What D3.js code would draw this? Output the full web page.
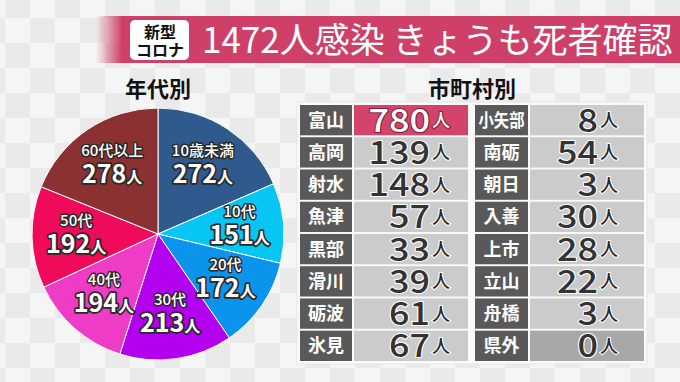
<!DOCTYPE html>
<html>
  <head>
    <meta charset="utf-8">
    <title>富山 感染者内訳</title>
    <script src="https://d3js.org/d3.v7.min.js"></script>
    <style>
      body { margin: 0; background: #f2f2f2; }
      svg { display: block; font-family: "Noto Sans CJK JP", "Noto Sans", sans-serif; }
    </style>
  </head>
  <body>
    <div id="chart"></div>
    <script>

      // data
      var ageLabels = ["10歳未満", "10代", "20代", "30代", "40代", "50代", "60代以上"];
      var ageValues = [272, 151, 172, 213, 194, 192, 278];
      var ageColors = ["#2f5a8e", "#08c6f4", "#0a94ec", "#b300ee", "#ef3cc6", "#ef0a5a", "#8b3131"];

      var cityLeft = ["富山", "高岡", "射水", "魚津", "黒部", "滑川", "砺波", "氷見"];
      var valuesLeft = [780, 139, 148, 57, 33, 39, 61, 67];
      var cityRight = ["小矢部", "南砺", "朝日", "入善", "上市", "立山", "舟橋", "県外"];
      var valuesRight = [8, 54, 3, 30, 28, 22, 3, 0];

      var width = 680, height = 382;

      var svg = d3.select("#chart").append("svg")
        .attr("width", width)
        .attr("height", height);

      var defs = svg.append("defs");

      // checkered backdrop
      var pat = defs.append("pattern")
        .attr("id", "checks")
        .attr("patternUnits", "userSpaceOnUse")
        .attr("x", 5).attr("y", -7)
        .attr("width", 50).attr("height", 50);
      pat.append("rect").attr("width", 50).attr("height", 50).attr("fill", "#f5f5f5");
      pat.append("rect").attr("width", 25).attr("height", 25).attr("fill", "#eaeaea");
      pat.append("rect").attr("x", 25).attr("y", 25).attr("width", 25).attr("height", 25).attr("fill", "#eaeaea");

      svg.append("rect")
        .attr("width", width).attr("height", height)
        .attr("fill", "url(#checks)");

      // header band, fading in from the left
      var fade = defs.append("linearGradient")
        .attr("id", "fade")
        .attr("x1", 0).attr("x2", 1).attr("y1", 0).attr("y2", 0);
      fade.append("stop").attr("offset", "0").attr("stop-color", "#cf4068").attr("stop-opacity", 0);
      fade.append("stop").attr("offset", "0.045").attr("stop-color", "#cf4068").attr("stop-opacity", 1);
      fade.append("stop").attr("offset", "1").attr("stop-color", "#cf4068").attr("stop-opacity", 1);

      svg.append("rect")
        .attr("x", 96).attr("y", 16)
        .attr("width", width - 96).attr("height", 47)
        .attr("fill", "url(#fade)");

      svg.append("rect")
        .attr("x", 130).attr("y", 20)
        .attr("width", 59).attr("height", 40)
        .attr("rx", 5)
        .attr("fill", "#ffffff");

      svg.append("text")
        .attr("x", 160).attr("y", 38)
        .attr("text-anchor", "middle")
        .style("font-size", "16px").style("font-weight", 700)
        .attr("fill", "#111")
        .text("新型");
      svg.append("text")
        .attr("x", 160).attr("y", 56)
        .attr("text-anchor", "middle")
        .style("font-size", "16px").style("font-weight", 700)
        .attr("fill", "#111")
        .text("コロナ");

      svg.append("text")
        .attr("x", 202).attr("y", 53)
        .style("font-size", "35px").style("font-weight", 400)
        .attr("fill", "#ffffff")
        .text("1472人感染 きょうも死者確認");

      // pie: 年代別
      var cx = 158, cy = 234, r = 126;

      svg.append("text")
        .attr("x", cx).attr("y", 97)
        .attr("text-anchor", "middle")
        .style("font-size", "22px").style("font-weight", 700)
        .attr("fill", "#111")
        .text("年代別");

      var pie = d3.pie().sort(null).value(function (d) { return d; });
      var arcs = pie(ageValues);
      var arc = d3.arc().innerRadius(0).outerRadius(r);
      var labelArc = d3.arc().innerRadius(r * 0.65).outerRadius(r * 0.65);

      var g = svg.append("g").attr("transform", "translate(" + cx + "," + cy + ")");

      g.selectAll("path.slice")
        .data(arcs)
        .enter().append("path")
          .attr("class", "slice")
          .attr("d", arc)
          .attr("fill", function (d, i) { return ageColors[i]; })
          .attr("stroke", "#ffffff")
          .attr("stroke-width", 1);

      var lab = g.selectAll("g.lab")
        .data(arcs)
        .enter().append("g")
          .attr("class", "lab")
          .attr("transform", function (d) {
            var c = labelArc.centroid(d);
            return "translate(" + c[0] + "," + c[1] + ")";
          });

      lab.append("text")
        .attr("y", -10)
        .attr("text-anchor", "middle")
        .style("font-size", "15px").style("font-weight", 500)
        .attr("fill", "#ffffff")
        .attr("stroke", "#2a2a2a").attr("stroke-width", 3)
        .attr("stroke-linejoin", "round")
        .style("paint-order", "stroke")
        .text(function (d, i) { return ageLabels[i]; });

      var num = lab.append("text")
        .attr("y", 17)
        .attr("text-anchor", "middle")
        .attr("fill", "#ffffff")
        .attr("stroke", "#2a2a2a").attr("stroke-width", 3.5)
        .attr("stroke-linejoin", "round")
        .style("paint-order", "stroke")
        .style("font-weight", 700);
      num.append("tspan")
        .style("font-size", "25px")
        .text(function (d) { return d.data; });
      num.append("tspan")
        .style("font-size", "16px")
        .text("人");

      // table: 市町村別
      svg.append("text")
        .attr("x", 472).attr("y", 97)
        .attr("text-anchor", "middle")
        .style("font-size", "22px").style("font-weight", 700)
        .attr("fill", "#111")
        .text("市町村別");

      var row = d3.scaleBand()
        .domain(d3.range(cityLeft.length))
        .range([105, 361])
        .paddingInner(0.06);

      svg.append("rect")
        .attr("x", 297).attr("y", 102)
        .attr("width", 350).attr("height", 262)
        .attr("fill", "#fafafa")
        .attr("stroke", "#e6e6e6");

      var columns = [
        {names: cityLeft, values: valuesLeft, lx: 300, lw: 52, vx: 354, vw: 114, pad: 18},
        {names: cityRight, values: valuesRight, lx: 475, lw: 53, vx: 530, vw: 114, pad: 26}
      ];

      columns.forEach(function (col) {
        var rows = svg.append("g").selectAll("g")
          .data(col.names.map(function (n, i) { return {name: n, value: col.values[i], i: i}; }))
          .enter().append("g")
            .attr("transform", function (d) { return "translate(0," + row(d.i) + ")"; });

        rows.append("rect")
          .attr("x", col.lx).attr("width", col.lw)
          .attr("height", row.bandwidth())
          .attr("fill", "#595959");

        rows.append("rect")
          .attr("x", col.vx).attr("width", col.vw)
          .attr("height", row.bandwidth())
          .attr("fill", function (d) {
            if (d.name === "富山") return "#d2446c";
            if (d.name === "県外") return "#a8a8a8";
            return "#cbcbcb";
          });

        rows.append("text")
          .attr("x", col.lx + col.lw / 2)
          .attr("y", row.bandwidth() / 2 + 6.5)
          .attr("text-anchor", "middle")
          .attr("textLength", function (d) { return d.name.length > 2 ? 46 : null; })
          .attr("lengthAdjust", "spacingAndGlyphs")
          .style("font-size", "18px").style("font-weight", 700)
          .attr("fill", "#ffffff")
          .text(function (d) { return d.name; });

        var hot = function (d) { return d.name === "富山"; };

        rows.append("text")
          .attr("x", col.vx + col.vw - col.pad)
          .attr("y", row.bandwidth() / 2 + 7)
          .attr("text-anchor", "end")
          .style("font-size", "18px").style("font-weight", 500)
          .attr("fill", function (d) { return hot(d) ? "#ffffff" : "#2a2a2a"; })
          .attr("stroke", function (d) { return hot(d) ? "#7a2238" : "#ffffff"; })
          .attr("stroke-width", 2)
          .style("paint-order", "stroke")
          .text("人");

        rows.append("text")
          .attr("x", col.vx + col.vw - col.pad - 20)
          .attr("y", row.bandwidth() / 2 + 11.5)
          .attr("text-anchor", "end")
          .attr("textLength", function (d) { return String(d.value).length * 20.5; })
          .attr("lengthAdjust", "spacingAndGlyphs")
          .style("font-size", "32px").style("font-weight", 500)
          .attr("fill", function (d) { return hot(d) ? "#ffffff" : "#333333"; })
          .attr("stroke", function (d) { return hot(d) ? "#7a2238" : "#ffffff"; })
          .attr("stroke-width", 2)
          .style("paint-order", "stroke")
          .text(function (d) { return d.value; });
      });

    </script>
  </body>
</html>
